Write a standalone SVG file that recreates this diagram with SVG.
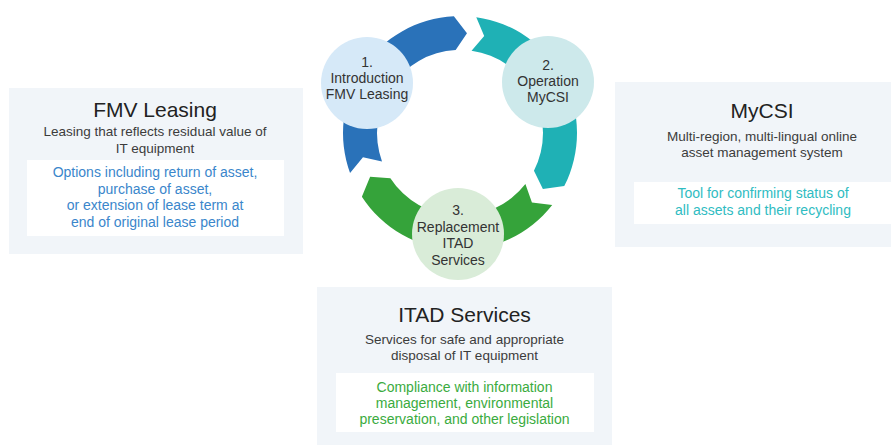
<svg xmlns="http://www.w3.org/2000/svg" width="891" height="445" viewBox="0 0 891 445">
  <style>
    text { font-family: "Liberation Sans", Arial, sans-serif; text-anchor: middle; }
    .panel { fill: #f1f5f9; }
    .inner { fill: #ffffff; }
    .title { font-size: 21px; fill: #222222; }
    .sub { font-size: 13.5px; fill: #3c3c3c; }
    .note { font-size: 14px; }
    .step { font-size: 14px; fill: #333333; }
    .blue { fill: #2a72b9; }
    .teal { fill: #1fb1b5; }
    .green { fill: #35a33a; }
  </style>

  <!-- cycle arrows (ring centre 460,133; outer r 117, inner r 83) -->
  <g id="connectors">
    <path id="arrow-1-2" class="blue" d="M350.06,173.02 A117,117 0 0 1 453.88,16.16 L466.98,33.24 L455.66,50.11 A83,83 0 0 0 382.0,161.39 L362.97,157.19 Z"/>
    <path id="arrow-2-3" class="teal" d="M476.28,17.14 A117,117 0 0 1 564.25,186.12 L542.90,188.92 L533.95,170.68 A83,83 0 0 0 471.55,50.81 L484.19,35.97 Z"/>
    <path id="arrow-3-1" class="green" d="M552.20,205.04 A117,117 0 0 1 361.87,196.72 L370.12,176.84 L390.39,178.20 A83,83 0 0 0 525.40,184.10 L531.93,202.47 Z"/>
  </g>

  <!-- step circles -->
  <g id="step-1">
    <circle cx="367" cy="83" r="46" fill="#d6e9f8"/>
    <text class="step" x="367" y="67">1.</text>
    <text class="step" x="367" y="83">Introduction</text>
    <text class="step" x="367" y="99">FMV Leasing</text>
  </g>
  <g id="step-2">
    <circle cx="548" cy="82" r="46" fill="#cde9eb"/>
    <text class="step" x="548" y="70">2.</text>
    <text class="step" x="548" y="86">Operation</text>
    <text class="step" x="548" y="102">MyCSI</text>
  </g>
  <g id="step-3">
    <circle cx="458" cy="234" r="46" fill="#d9ecd8"/>
    <text class="step" x="458" y="215">3.</text>
    <text class="step" x="458" y="232">Replacement</text>
    <text class="step" x="458" y="248">ITAD</text>
    <text class="step" x="458" y="265">Services</text>
  </g>

  <!-- FMV Leasing panel -->
  <g id="node-fmv">
    <rect class="panel" x="9" y="88" width="294" height="166"/>
    <rect class="inner" x="27" y="160" width="257" height="76"/>
    <text class="title" x="155" y="117">FMV Leasing</text>
    <text class="sub" x="155" y="136">Leasing that reflects residual value of</text>
    <text class="sub" x="155" y="153">IT equipment</text>
    <text class="note" x="155" y="177" fill="#3a86cb">Options including return of asset,</text>
    <text class="note" x="155" y="193.7" fill="#3a86cb">purchase of asset,</text>
    <text class="note" x="155" y="210.4" fill="#3a86cb">or extension of lease term at</text>
    <text class="note" x="155" y="227" fill="#3a86cb">end of original lease period</text>
  </g>

  <!-- MyCSI panel -->
  <g id="node-mycsi">
    <rect class="panel" x="615" y="82" width="294" height="165"/>
    <rect class="inner" x="634" y="182" width="257" height="42"/>
    <text class="title" x="762" y="118">MyCSI</text>
    <text class="sub" x="762" y="141">Multi-region, multi-lingual online</text>
    <text class="sub" x="762" y="157">asset management system</text>
    <text class="note" x="763" y="198" fill="#2fbcc2">Tool for confirming status of</text>
    <text class="note" x="763" y="215" fill="#2fbcc2">all assets and their recycling</text>
  </g>

  <!-- ITAD Services panel -->
  <g id="node-itad">
    <rect class="panel" x="317" y="287" width="295" height="158"/>
    <rect class="inner" x="336" y="373" width="258" height="59"/>
    <text class="title" x="464.5" y="322">ITAD Services</text>
    <text class="sub" x="464.5" y="344">Services for safe and appropriate</text>
    <text class="sub" x="464.5" y="360">disposal of IT equipment</text>
    <text class="note" x="464.5" y="391.5" fill="#3aab3e">Compliance with information</text>
    <text class="note" x="464.5" y="407.5" fill="#3aab3e">management, environmental</text>
    <text class="note" x="464.5" y="423.5" fill="#3aab3e">preservation, and other legislation</text>
  </g>
</svg>
